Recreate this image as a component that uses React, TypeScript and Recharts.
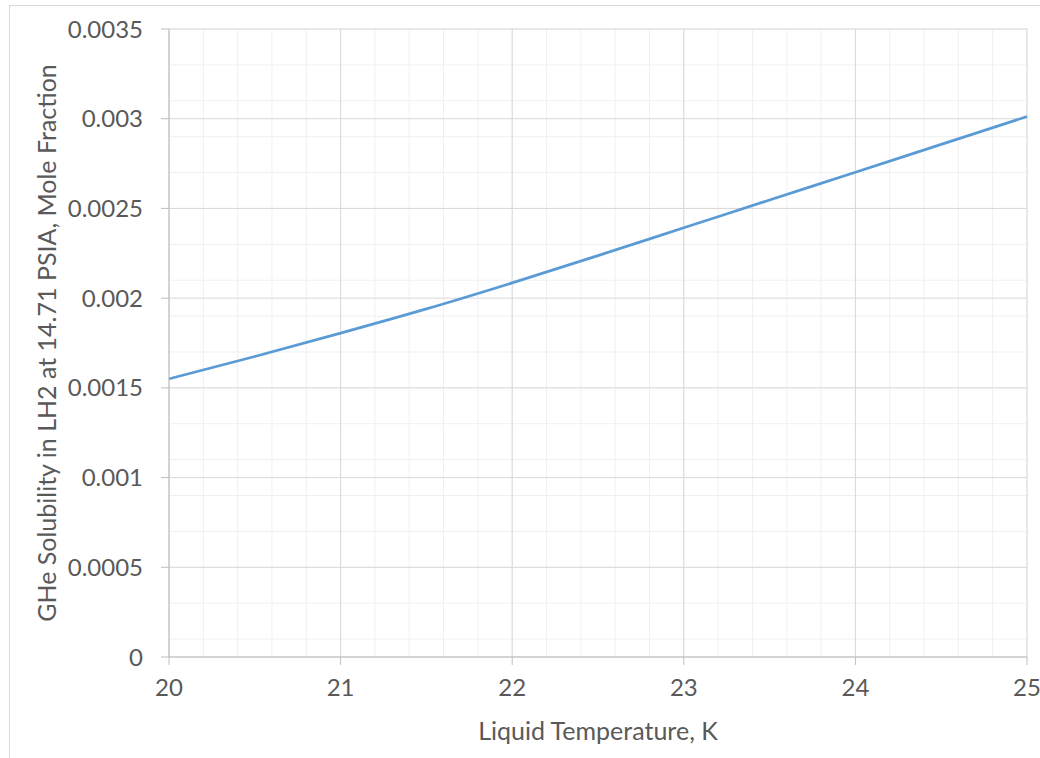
import { LineChart, Line, XAxis, YAxis, CartesianGrid } from 'recharts';

const temperatures = [20, 20.5, 21, 21.5, 22, 22.5, 23, 23.5, 24, 24.5, 25];
const solubility = [0.00155, 0.001675, 0.001805, 0.00194, 0.002085, 0.002237, 0.002392, 0.002547, 0.002702, 0.002857, 0.003012];

const xTicks = [20, 21, 22, 23, 24, 25];
const yTicks = [0, 0.0005, 0.001, 0.0015, 0.002, 0.0025, 0.003, 0.0035];
const xMinorTicks = [
  20, 20.2, 20.4, 20.6, 20.8, 21, 21.2, 21.4, 21.6, 21.8, 22, 22.2, 22.4, 22.6, 22.8,
  23, 23.2, 23.4, 23.6, 23.8, 24, 24.2, 24.4, 24.6, 24.8, 25,
];
const yMinorTicks = [
  0, 0.0001, 0.0002, 0.0003, 0.0004, 0.0005, 0.0006, 0.0007, 0.0008, 0.0009, 0.001,
  0.0011, 0.0012, 0.0013, 0.0014, 0.0015, 0.0016, 0.0017, 0.0018, 0.0019, 0.002,
  0.0021, 0.0022, 0.0023, 0.0024, 0.0025, 0.0026, 0.0027, 0.0028, 0.0029, 0.003,
  0.0031, 0.0032, 0.0033, 0.0034, 0.0035,
];

const data = temperatures.map((t, i) => ({ t, s: solubility[i] }));

const FONT = 'Lato, "Open Sans", sans-serif';
const TEXT = '#595959';
const tickStyle = { fill: TEXT, fontSize: 24, fontFamily: FONT };

const YTitle = ({ viewBox }: any) => {
  const cx = viewBox.x + 46;
  const cy = viewBox.y + viewBox.height / 2;
  return (
    <text x={cx} y={cy} transform={`rotate(-90 ${cx} ${cy})`} textAnchor="middle" dominantBaseline="central"
      fill={TEXT} fontSize={25} fontFamily={FONT}>
      GHe Solubility in LH2 at 14.71 PSIA, Mole Fraction
    </text>
  );
};

const XTitle = ({ viewBox }: any) => {
  const cx = viewBox.x + viewBox.width / 2;
  return (
    <text x={cx} y={viewBox.y + 73} textAnchor="middle" dominantBaseline="central"
      fill={TEXT} fontSize={25} fontFamily={FONT}>
      Liquid Temperature, K
    </text>
  );
};

export default function App() {
  return (
    <div style={{ position: 'absolute', left: 0, top: 0, width: 1040, height: 758, background: '#fff', overflow: 'hidden' }}>
      <div style={{ position: 'absolute', left: 9, top: 5, width: 1100, height: 800, border: '1px solid #d9d9d9' }} />
      <LineChart width={1040} height={758} data={data} margin={{ top: 29, right: 13, bottom: 0, left: 0 }}>
        {/* hidden axes that only carry the minor gridlines */}
        <XAxis xAxisId="minor" dataKey="t" type="number" domain={[20, 25]} ticks={xMinorTicks} hide />
        <YAxis yAxisId="minor" dataKey="s" type="number" domain={[0, 0.0035]} ticks={yMinorTicks} hide />
        <CartesianGrid xAxisId="minor" yAxisId="minor" stroke="#f0f0f0" strokeWidth={1} />
        <CartesianGrid stroke="#d9d9d9" strokeWidth={1} />
        <XAxis
          dataKey="t"
          type="number"
          domain={[20, 25]}
          ticks={xTicks}
          height={101}
          stroke="#bfbfbf"
          tickSize={8}
          tickMargin={14}
          tick={tickStyle}
          label={<XTitle />}
        />
        <YAxis
          type="number"
          domain={[0, 0.0035]}
          ticks={yTicks}
          width={169}
          stroke="#bfbfbf"
          tickSize={8}
          tickMargin={18}
          tick={tickStyle}
          tickFormatter={(v: number) => String(v)}
          label={<YTitle />}
        />
        <Line dataKey="s" type="monotone" stroke="#5b9bd5" strokeWidth={2.75} dot={false} isAnimationActive={false} />
      </LineChart>
    </div>
  );
}
